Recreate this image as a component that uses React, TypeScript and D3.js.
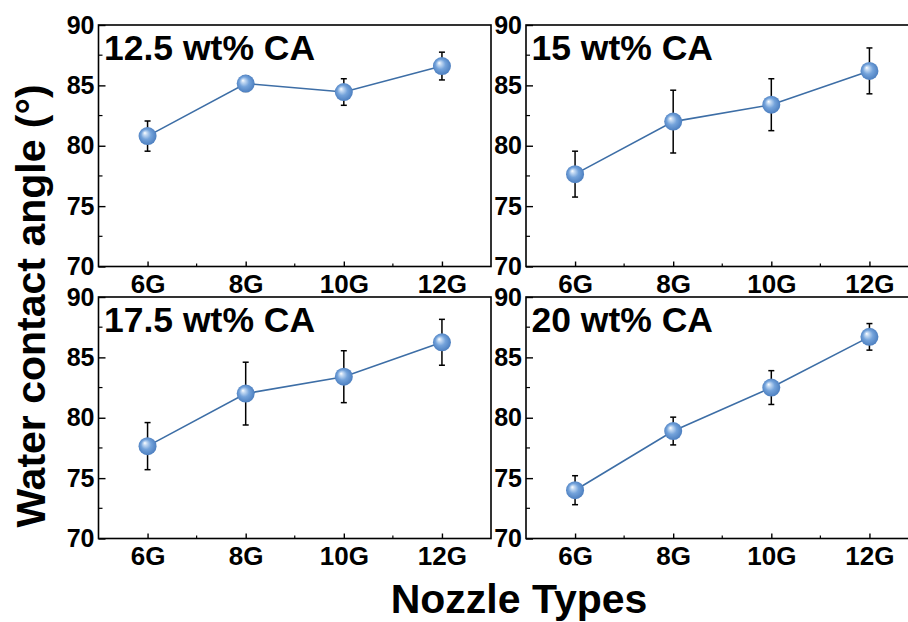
import { useEffect, useRef } from "react";
import * as d3 from "d3";

// Nozzle categories on the x axis
const categories = ["6G", "8G", "10G", "12G"];
const yTicks = [70, 75, 80, 85, 90];
const yMinorTicks = [72.5, 77.5, 82.5, 87.5];

// Panel titles
const panelTitles = ["12.5 wt% CA", "15 wt% CA", "17.5 wt% CA", "20 wt% CA"];

// Water contact angle (mean) and error for every CA loading
const ca125 = [80.8, 85.15, 84.45, 86.6];
const err125 = [1.25, 0.65, 1.1, 1.15];
const ca15 = [77.65, 82.0, 83.4, 86.2];
const err15 = [1.9, 2.6, 2.15, 1.9];
const ca175 = [77.65, 82.0, 83.4, 86.25];
const err175 = [1.95, 2.6, 2.15, 1.9];
const ca20 = [74.0, 78.9, 82.5, 86.7];
const err20 = [1.2, 1.15, 1.4, 1.1];

const width = 908;
const height = 622;
const PANEL_W = 392.5;
const PANEL_H = 241.5;
const FONT = "Arial, 'Liberation Sans', sans-serif";

// top-left corner of each panel's plot area
const panelPos = [
  { x: 98.5, y: 25 },
  { x: 526, y: 25 },
  { x: 98.5, y: 297 },
  { x: 526, y: 297 },
];

export default function App() {
  const svgRef = useRef(null);

  useEffect(() => {
    const svg = d3.select(svgRef.current);
    svg.selectAll("*").remove();

    const defs = svg.append("defs");
    const grad = defs
      .append("radialGradient")
      .attr("id", "ball")
      .attr("cx", "50%")
      .attr("cy", "50%")
      .attr("r", "55%")
      .attr("fx", "34%")
      .attr("fy", "32%");
    grad.append("stop").attr("offset", "0%").attr("stop-color", "#ffffff");
    grad.append("stop").attr("offset", "18%").attr("stop-color", "#c4daf3");
    grad.append("stop").attr("offset", "50%").attr("stop-color", "#74a3db");
    grad.append("stop").attr("offset", "100%").attr("stop-color", "#4679bb");

    const x = d3.scaleLinear().domain([-0.5, 3.5]).range([0, PANEL_W]);
    const y = d3.scaleLinear().domain([70, 90]).range([PANEL_H, 0]);

    const series = [
      { v: ca125, e: err125 },
      { v: ca15, e: err15 },
      { v: ca175, e: err175 },
      { v: ca20, e: err20 },
    ];

    series.forEach((s, i) => {
      const pos = panelPos[i];
      const g = svg.append("g").attr("transform", `translate(${pos.x},${pos.y})`);

      // minor ticks
      g.append("g")
        .selectAll("line")
        .data(yMinorTicks)
        .join("line")
        .attr("x1", 0)
        .attr("x2", 4)
        .attr("y1", (d) => y(d))
        .attr("y2", (d) => y(d))
        .attr("stroke", "#000")
        .attr("stroke-width", 1.2);
      g.append("g")
        .selectAll("line")
        .data([0.5, 1.5, 2.5])
        .join("line")
        .attr("x1", (d) => x(d))
        .attr("x2", (d) => x(d))
        .attr("y1", PANEL_H)
        .attr("y2", PANEL_H - 3)
        .attr("stroke", "#000")
        .attr("stroke-width", 1.2);

      // y axis
      const yAxis = g
        .append("g")
        .call(d3.axisLeft(y).tickValues(yTicks).tickSize(-7).tickPadding(4));
      yAxis.select(".domain").remove();
      yAxis.selectAll("line").attr("stroke-width", 1.4);
      yAxis
        .selectAll("text")
        .attr("font-family", FONT)
        .attr("font-weight", "bold")
        .attr("font-size", 25)
        .attr("fill", "#000");

      // x axis
      const xAxis = g
        .append("g")
        .attr("transform", `translate(0,${PANEL_H})`)
        .call(
          d3
            .axisBottom(x)
            .tickValues([0, 1, 2, 3])
            .tickFormat((d) => categories[d])
            .tickSize(-5)
            .tickPadding(8)
        );
      xAxis.select(".domain").remove();
      xAxis.selectAll("line").attr("stroke-width", 1.4);
      xAxis
        .selectAll("text")
        .attr("font-family", FONT)
        .attr("font-weight", "bold")
        .attr("font-size", 26)
        .attr("fill", "#000");

      // frame
      g.append("rect")
        .attr("width", PANEL_W)
        .attr("height", PANEL_H)
        .attr("fill", "none")
        .attr("stroke", "#000")
        .attr("stroke-width", 1.6);

      // title
      g.append("text")
        .attr("x", 5.5)
        .attr("y", 35)
        .attr("font-family", FONT)
        .attr("font-weight", "bold")
        .attr("font-size", 35.5)
        .attr("fill", "#000")
        .text(panelTitles[i]);

      // error bars
      const eb = g.append("g").attr("stroke", "#000").attr("stroke-width", 1.5);
      s.v.forEach((v, j) => {
        const cx = x(j);
        const top = y(v + s.e[j]);
        const bot = y(v - s.e[j]);
        eb.append("line").attr("x1", cx).attr("x2", cx).attr("y1", top).attr("y2", bot);
        eb.append("line").attr("x1", cx - 3).attr("x2", cx + 3).attr("y1", top).attr("y2", top);
        eb.append("line").attr("x1", cx - 3).attr("x2", cx + 3).attr("y1", bot).attr("y2", bot);
      });

      // connecting line
      const line = d3
        .line()
        .x((d, j) => x(j))
        .y((d) => y(d));
      g.append("path")
        .attr("d", line(s.v))
        .attr("fill", "none")
        .attr("stroke", "#3d6ea6")
        .attr("stroke-width", 1.6);

      // sphere markers
      g.append("g")
        .selectAll("circle")
        .data(s.v)
        .join("circle")
        .attr("cx", (d, j) => x(j))
        .attr("cy", (d) => y(d))
        .attr("r", 9)
        .attr("fill", "url(#ball)");
    });

    // axis titles
    svg
      .append("text")
      .attr("transform", "translate(45,306) rotate(-90)")
      .attr("text-anchor", "middle")
      .attr("font-family", FONT)
      .attr("font-weight", "bold")
      .attr("font-size", 41)
      .attr("fill", "#000")
      .text("Water contact angle (°)");
    svg
      .append("text")
      .attr("x", 519)
      .attr("y", 613)
      .attr("text-anchor", "middle")
      .attr("font-family", FONT)
      .attr("font-weight", "bold")
      .attr("font-size", 41)
      .attr("fill", "#000")
      .text("Nozzle Types");
  }, []);

  return (
    <svg
      ref={svgRef}
      width={width}
      height={height}
      style={{ position: "absolute", left: 0, top: 0, background: "#fff" }}
    />
  );
}
